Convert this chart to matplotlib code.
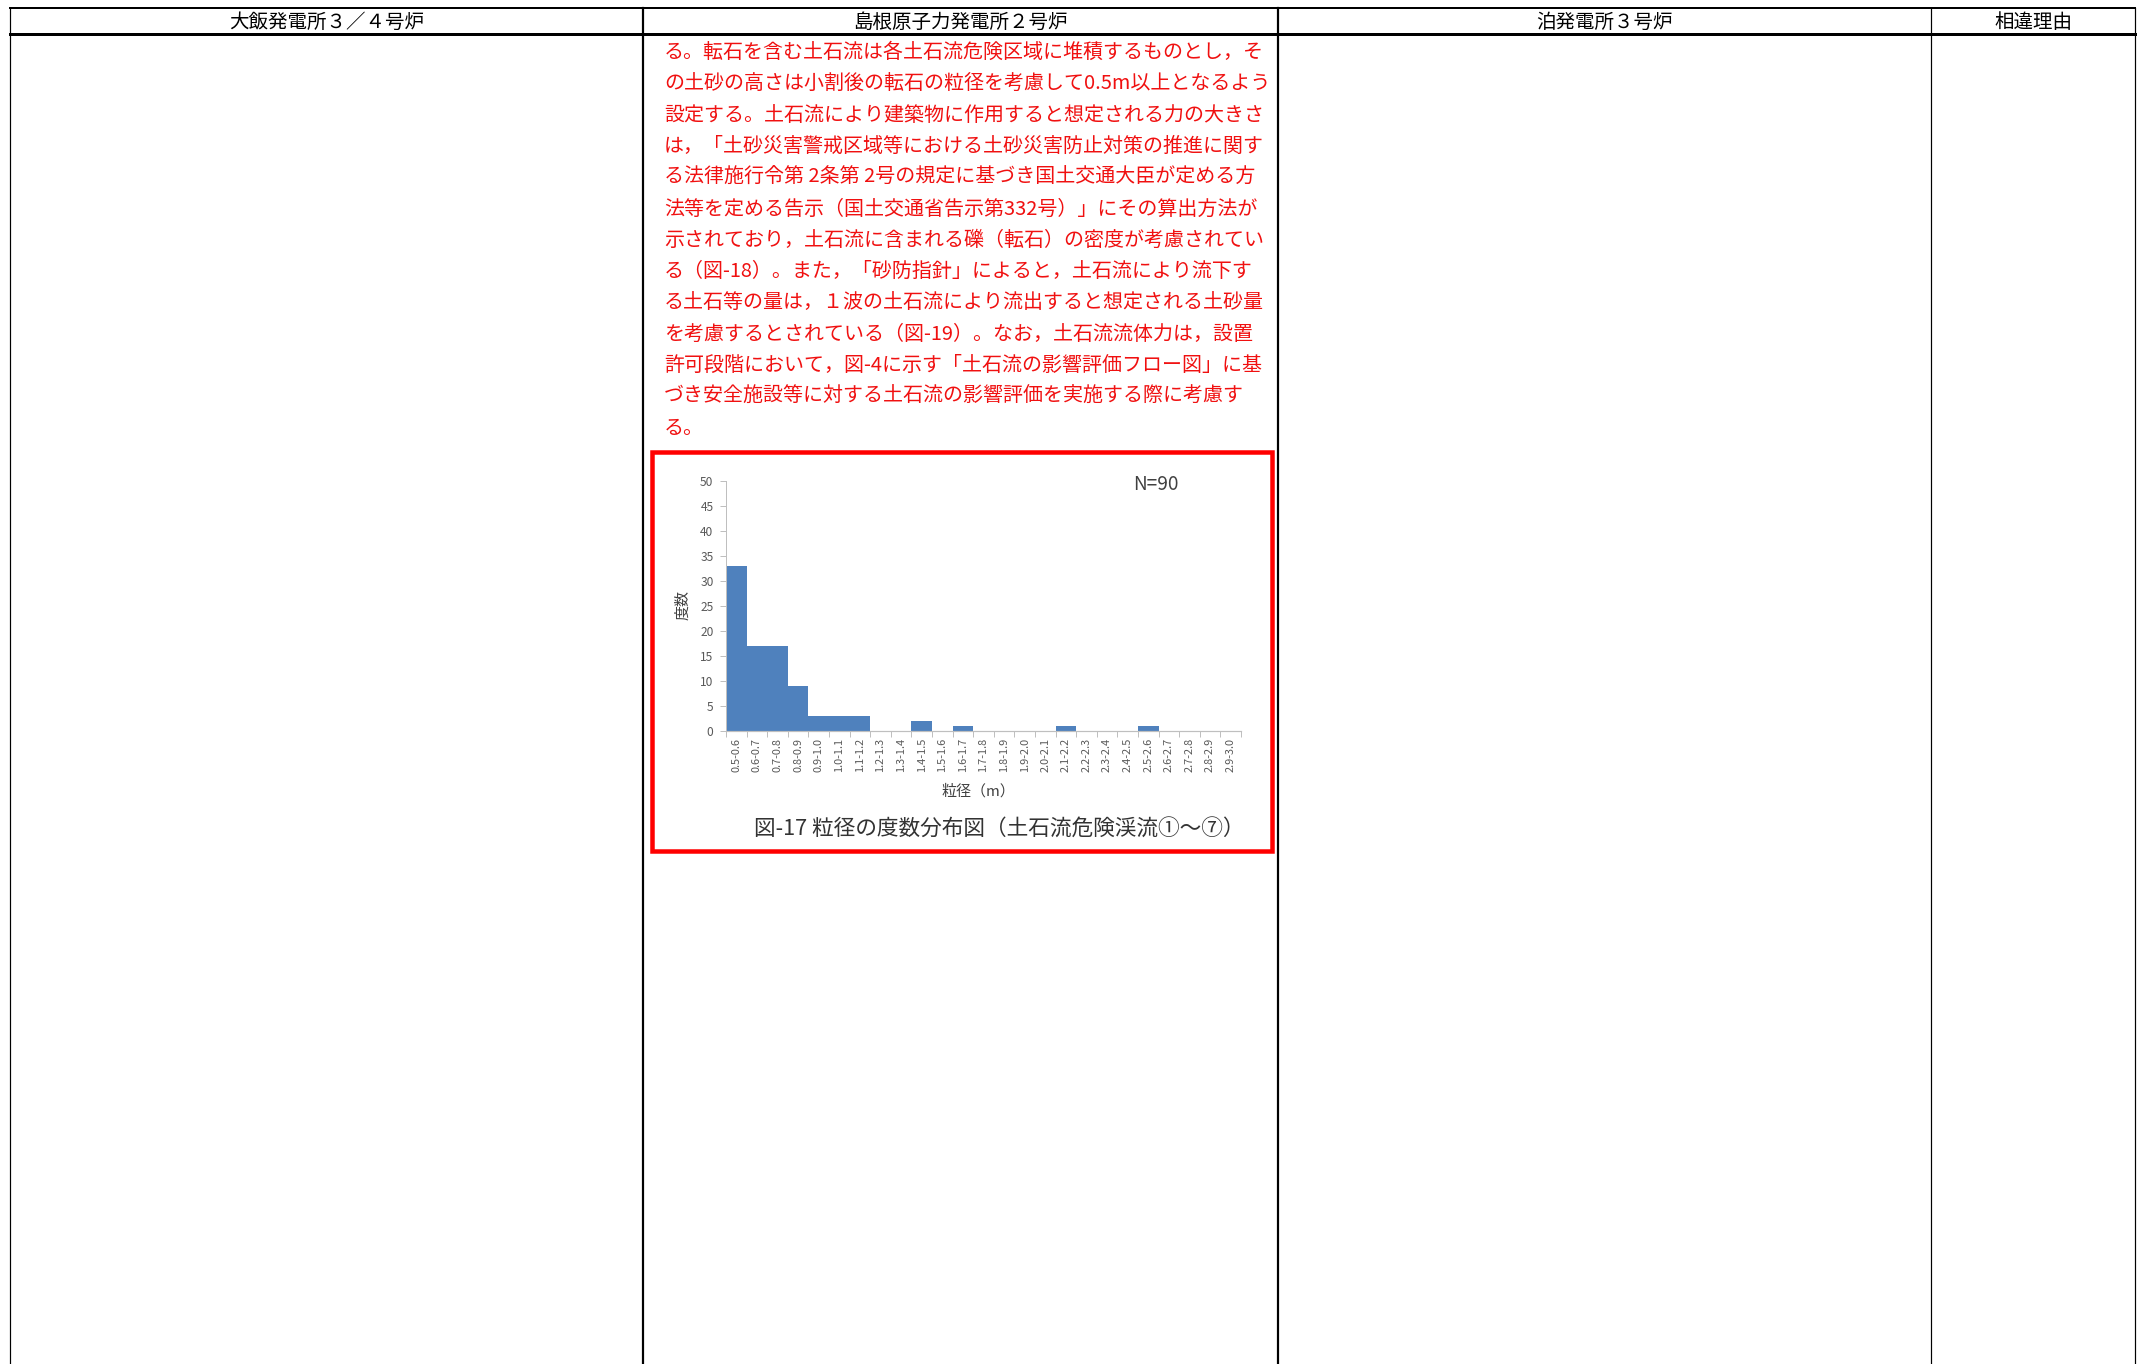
import matplotlib
matplotlib.use("Agg")
import matplotlib.pyplot as plt
from matplotlib.patches import Rectangle

plt.rcParams['font.family'] = ['Noto Sans CJK JP', 'DejaVu Sans']

# ---- data ----
headers = ["大飯発電所３／４号炉", "島根原子力発電所２号炉", "泊発電所３号炉", "相違理由"]
body_lines = [
    "る。転石を含む土石流は各土石流危険区域に堆積するものとし，そ",
    "の土砂の高さは小割後の転石の粒径を考慮して0.5m以上となるよう",
    "設定する。土石流により建築物に作用すると想定される力の大きさ",
    "は，「土砂災害警戒区域等における土砂災害防止対策の推進に関す",
    "る法律施行令第 2条第 2号の規定に基づき国土交通大臣が定める方",
    "法等を定める告示（国土交通省告示第332号）」にその算出方法が",
    "示されており，土石流に含まれる礫（転石）の密度が考慮されてい",
    "る（図-18）。また，「砂防指針」によると，土石流により流下す",
    "る土石等の量は，１波の土石流により流出すると想定される土砂量",
    "を考慮するとされている（図-19）。なお，土石流流体力は，設置",
    "許可段階において，図-4に示す「土石流の影響評価フロー図」に基",
    "づき安全施設等に対する土石流の影響評価を実施する際に考慮す",
    "る。",
]
categories = ["0.5-0.6", "0.6-0.7", "0.7-0.8", "0.8-0.9", "0.9-1.0", "1.0-1.1",
              "1.1-1.2", "1.2-1.3", "1.3-1.4", "1.4-1.5", "1.5-1.6", "1.6-1.7",
              "1.7-1.8", "1.8-1.9", "1.9-2.0", "2.0-2.1", "2.1-2.2", "2.2-2.3",
              "2.3-2.4", "2.4-2.5", "2.5-2.6", "2.6-2.7", "2.7-2.8", "2.8-2.9",
              "2.9-3.0"]
counts = [33, 17, 17, 9, 3, 3, 3, 0, 0, 2, 0, 1, 0, 0, 0, 0, 1, 0, 0, 0, 1, 0, 0, 0, 0]
yticks = [0, 5, 10, 15, 20, 25, 30, 35, 40, 45, 50]
n_label = "N=90"
ylabel = "度数"
xlabel = "粒径（m）"
caption = "図-17 粒径の度数分布図（土石流危険渓流①～⑦）"

W, H = 2143, 1364
DPI = 100
fig = plt.figure(figsize=(W / DPI, H / DPI), dpi=DPI)
PX = 72.0 / DPI  # points per pixel

# overlay axes in pixel coordinates
ax0 = fig.add_axes([0, 0, 1, 1])
ax0.set_xlim(0, W)
ax0.set_ylim(H, 0)
ax0.axis('off')

# table grid
col_x = [10, 643, 1278, 1931, 2135]
col_w = [1.2, 2.2, 2.2, 1.2, 1.2]
top_y, head_y = 8, 34
ax0.plot([col_x[0], col_x[-1]], [top_y, top_y], color='black', lw=2 * PX)
ax0.plot([col_x[0], col_x[-1]], [head_y, head_y], color='black', lw=3 * PX)
for x, w in zip(col_x, col_w):
    ax0.plot([x, x], [top_y, H], color='black', lw=w * PX)

for i, h in enumerate(headers):
    cx = (col_x[i] + col_x[i + 1]) / 2
    ax0.text(cx, (top_y + head_y) / 2 + 1, h, fontsize=19.5 * PX, ha='center', va='center',
             color='black')

# body red text
y0, dy = 52.5, 31.3
for i, line in enumerate(body_lines):
    ax0.text(664, y0 + i * dy, line, fontsize=20 * PX, ha='left', va='center',
             color='#F01010')

# red frame
ax0.add_patch(Rectangle((652, 452), 620, 399, fill=False, edgecolor='#FF0000',
                        lw=4.5 * PX, zorder=5))

# chart texts
ax0.text(1133, 484, n_label, fontsize=19 * PX, ha='left', va='center', color='#404040')
ax0.text(683, 605, ylabel, fontsize=15 * PX, ha='center', va='center', rotation=90,
         color='#404040')
ax0.text(978, 791, xlabel, fontsize=15 * PX, ha='center', va='center', color='#404040')
ax0.text(999, 830, caption, fontsize=21.7 * PX, ha='center', va='center', color='#333333')

# bar chart axes
left, right, bottom, top = 726, 1241, 731, 481
ax = fig.add_axes([left / W, 1 - bottom / H, (right - left) / W, (bottom - top) / H])
ax.set_facecolor('none')
xs = list(range(len(categories)))
ax.bar(xs, counts, width=1.0, color='#4F81BD', edgecolor='none')
ax.set_xlim(-0.5, len(categories) - 0.5)
ax.set_ylim(0, 50)
ax.set_yticks(yticks)
ax.set_yticklabels([str(v) for v in yticks])
ax.set_xticks(xs)
ax.set_xticklabels(categories, rotation=90)
ax.set_xticks([x - 0.5 for x in range(len(categories) + 1)], minor=True)
for s in ['top', 'right']:
    ax.spines[s].set_visible(False)
ax.spines['left'].set_color('#BFBFBF')
ax.spines['bottom'].set_color('#BFBFBF')
ax.spines['left'].set_linewidth(1 * PX)
ax.spines['bottom'].set_linewidth(1.2 * PX)
ax.tick_params(axis='y', colors='#BFBFBF', labelcolor='#595959', labelsize=12 * PX,
               length=4, width=1 * PX, pad=5)
ax.tick_params(axis='x', which='major', length=0, labelcolor='#595959',
               labelsize=11 * PX, pad=5)
ax.tick_params(axis='x', which='minor', length=4, colors='#BFBFBF', width=1 * PX)

fig.savefig('out.png', dpi=DPI)
